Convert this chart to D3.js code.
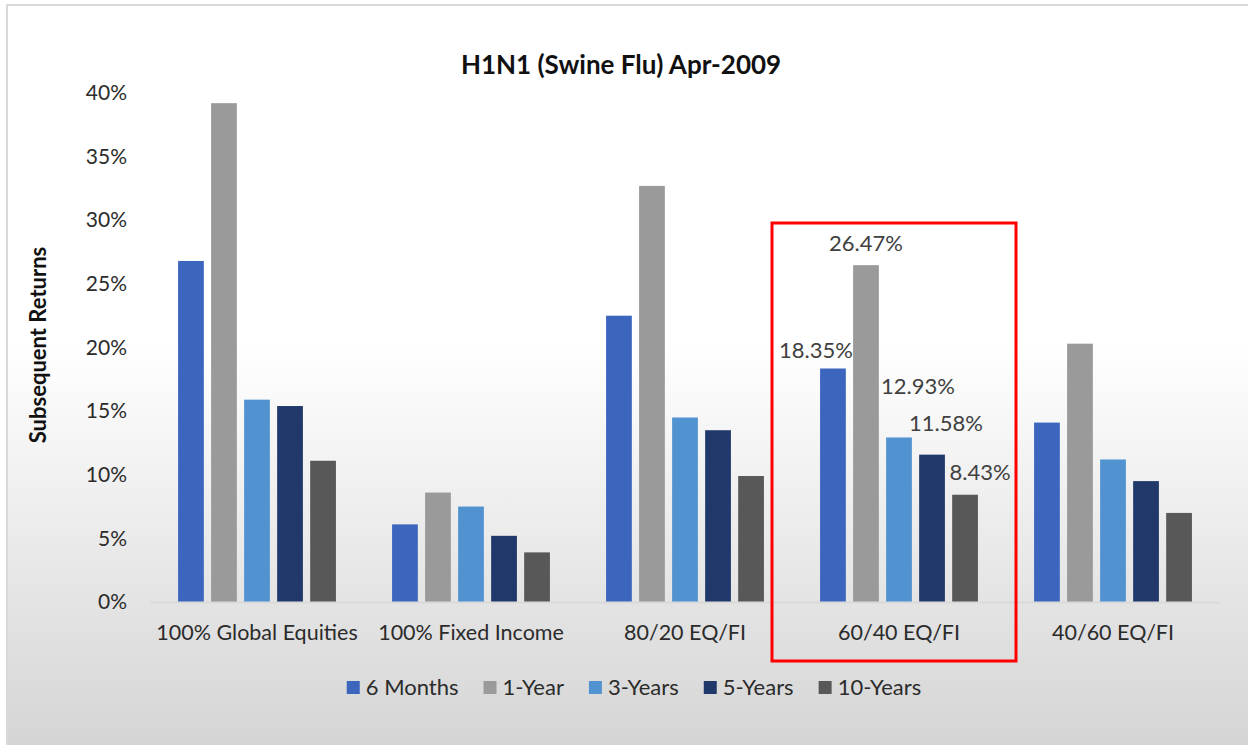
<!DOCTYPE html>
<html>
<head>
<meta charset="utf-8">
<script src="https://d3js.org/d3.v7.min.js"></script>
<style>
  body { margin: 0; background: #fff; }
  text { font-family: Lato, "Open Sans", sans-serif; }
</style>
</head>
<body>
<script>
// data
var categories = ["100% Global Equities", "100% Fixed Income", "80/20 EQ/FI", "60/40 EQ/FI", "40/60 EQ/FI"];
var seriesNames = ["6 Months", "1-Year", "3-Years", "5-Years", "10-Years"];
var sixMonths = [0.268, 0.061, 0.225, 0.1835, 0.141];
var oneYear = [0.392, 0.086, 0.327, 0.2647, 0.203];
var threeYears = [0.159, 0.075, 0.145, 0.1293, 0.112];
var fiveYears = [0.154, 0.052, 0.135, 0.1158, 0.095];
var tenYears = [0.111, 0.039, 0.099, 0.0843, 0.070];
var yTicks = [0, 0.05, 0.10, 0.15, 0.20, 0.25, 0.30, 0.35, 0.40];
var labelledCategory = "60/40 EQ/FI";

var seriesValues = [sixMonths, oneYear, threeYears, fiveYears, tenYears];
var colors = ["#3c66be", "#9a9a9a", "#5093d0", "#21396a", "#585858"];

// hand placed data labels (dx from bar centre, dy from bar top)
var labelOffsets = [[-17, -18], [0, -22], [19, -51], [14, -31], [15, -22]];

// Define SVG area dimensions
var svgWidth = 1248;
var svgHeight = 745;

var svg = d3.select("body")
  .append("svg")
  .attr("width", svgWidth)
  .attr("height", svgHeight);

// background gradient like the excel chart area
var grad = svg.append("defs").append("linearGradient")
  .attr("id", "bg")
  .attr("x1", 0).attr("y1", 0).attr("x2", 0).attr("y2", 1);
grad.append("stop").attr("offset", "0%").attr("stop-color", "#ffffff");
grad.append("stop").attr("offset", "45%").attr("stop-color", "#ffffff");
grad.append("stop").attr("offset", "100%").attr("stop-color", "#d3d3d3");

svg.append("rect")
  .attr("x", 7)
  .attr("y", 5)
  .attr("width", svgWidth + 10)
  .attr("height", svgHeight + 10)
  .attr("fill", "url(#bg)")
  .attr("stroke", "#d9d9d9")
  .attr("stroke-width", 2);

// scales
var x0 = d3.scaleBand()
  .domain(categories)
  .range([150, 1220])
  .padding(0);

var x1 = d3.scaleBand()
  .domain(seriesNames)
  .range([0, x0.bandwidth()])
  .paddingInner(0.22)
  .paddingOuter(0.85);

var y = d3.scaleLinear()
  .domain([0, 0.4])
  .range([602, 93]);

// y axis, labels only
var yAxis = svg.append("g")
  .attr("transform", "translate(150,0)")
  .call(d3.axisLeft(y).tickValues(yTicks).tickFormat(d3.format(".0%")).tickSize(0).tickPadding(23));
yAxis.select(".domain").remove();
yAxis.selectAll("text")
  .attr("font-size", 21)
  .attr("font-family", "Lato")
  .attr("fill", "#2b2b2b");

// bars
var groups = svg.append("g")
  .selectAll("g")
  .data(seriesNames)
  .join("g")
  .attr("fill", function(d, i) { return colors[i]; });

groups.selectAll("rect")
  .data(function(s, i) {
    return categories.map(function(c, j) { return { cat: c, series: s, value: seriesValues[i][j] }; });
  })
  .join("rect")
  .attr("x", function(d) { return x0(d.cat) + x1(d.series); })
  .attr("y", function(d) { return y(d.value); })
  .attr("width", x1.bandwidth())
  .attr("height", function(d) { return y(0) - y(d.value); });

// x axis
var xAxis = svg.append("g")
  .attr("transform", "translate(0,602)")
  .call(d3.axisBottom(x0).tickSize(0).tickPadding(23));
xAxis.select(".domain")
  .attr("stroke", "#d9d9d9")
  .attr("stroke-width", 2);
xAxis.selectAll("text")
  .attr("font-size", 21.5)
  .attr("font-family", "Lato")
  .attr("fill", "#2b2b2b");

// data labels for the highlighted mix
var j = categories.indexOf(labelledCategory);
svg.append("g")
  .selectAll("text")
  .data(seriesNames)
  .join("text")
  .attr("x", function(s, i) { return x0(labelledCategory) + x1(s) + x1.bandwidth() / 2 + labelOffsets[i][0]; })
  .attr("y", function(s, i) { return y(seriesValues[i][j]) + labelOffsets[i][1]; })
  .attr("dy", "0.35em")
  .attr("text-anchor", "middle")
  .attr("font-size", 22)
  .attr("fill", "#404040")
  .text(function(s, i) { return d3.format(".2%")(seriesValues[i][j]); });

// red highlight box
svg.append("rect")
  .attr("x", 772)
  .attr("y", 223)
  .attr("width", 244)
  .attr("height", 438)
  .attr("fill", "none")
  .attr("stroke", "#ff0000")
  .attr("stroke-width", 3);

// title
svg.append("text")
  .attr("x", 621)
  .attr("y", 65)
  .attr("dy", "0.35em")
  .attr("text-anchor", "middle")
  .attr("font-size", 26)
  .attr("font-weight", "bold")
  .attr("fill", "#111")
  .text("H1N1 (Swine Flu) Apr-2009");

// y axis title
svg.append("text")
  .attr("transform", "translate(38,345) rotate(-90)")
  .attr("dy", "0.35em")
  .attr("text-anchor", "middle")
  .attr("font-size", 22)
  .attr("font-weight", "bold")
  .attr("fill", "#111")
  .text("Subsequent Returns");

// legend, laid out from the measured text widths
var legend = svg.append("g");
var items = legend.selectAll("g")
  .data(seriesNames)
  .join("g");
items.append("rect")
  .attr("y", 681)
  .attr("width", 13)
  .attr("height", 13)
  .attr("fill", function(d, i) { return colors[i]; });
items.append("text")
  .attr("x", 19)
  .attr("y", 687)
  .attr("dy", "0.35em")
  .attr("font-size", 22)
  .attr("fill", "#2b2b2b")
  .text(function(d) { return d; });

var widths = [];
items.selectAll("text").each(function() { widths.push(19 + this.getComputedTextLength()); });
var gap = 25;
var total = d3.sum(widths) + gap * (widths.length - 1);
var pos = 634 - total / 2;
items.attr("transform", function(d, i) {
  var t = "translate(" + pos + ",0)";
  pos += widths[i] + gap;
  return t;
});
</script>
</body>
</html>
